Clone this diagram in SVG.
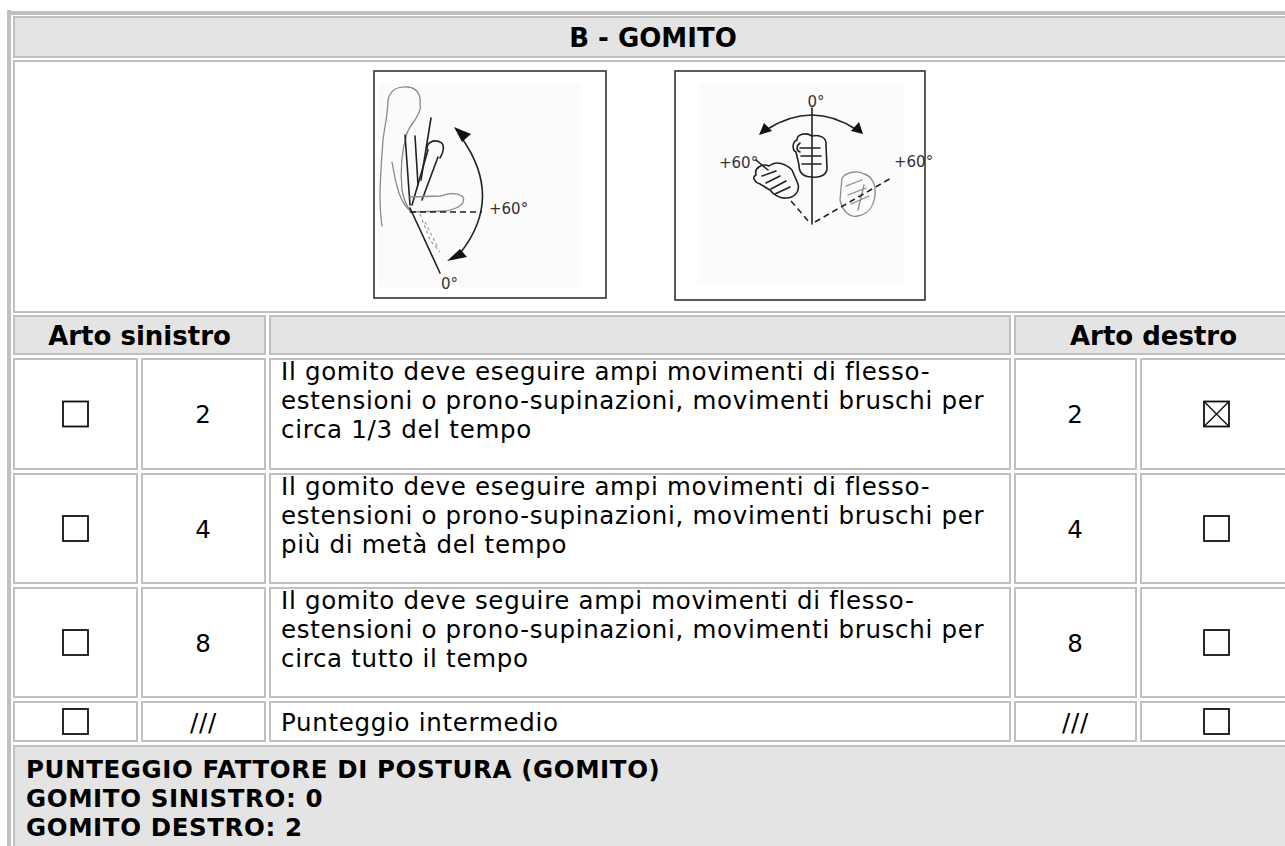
<svg xmlns="http://www.w3.org/2000/svg" width="1285" height="846" viewBox="0 0 1285 846">
<defs>
<style>
.g{fill:#e4e4e4;stroke:#c0c0c0;stroke-width:2}
.w{fill:#ffffff;stroke:#c0c0c0;stroke-width:2}
.t{font-family:"DejaVu Sans",Verdana,sans-serif;font-size:24.5px;letter-spacing:0.7px;fill:#000}
.h{font-family:"DejaVu Sans",Verdana,sans-serif;font-size:26px;font-weight:bold;fill:#000;text-anchor:middle}
.f{font-family:"DejaVu Sans",Verdana,sans-serif;font-size:24.5px;letter-spacing:0.6px;font-weight:bold;fill:#000}
.c{text-anchor:middle}
.cb{fill:#fff;stroke:#111;stroke-width:1.8}
.ln{fill:none;stroke:#222;stroke-width:1.6;stroke-linecap:round;stroke-linejoin:round}
.lt{fill:none;stroke:#8a8a8a;stroke-width:1.3;stroke-linecap:round;stroke-linejoin:round}
.ds{fill:none;stroke:#222;stroke-width:1.5;stroke-dasharray:6 4}
.dl{fill:none;stroke:#999;stroke-width:1.2;stroke-dasharray:3 3}
.lb{font-family:"DejaVu Sans",Verdana,sans-serif;font-size:15px;fill:#333}
.ah{fill:#111}
</style>
<symbol id="box" viewBox="0 0 25 25" overflow="visible"><rect class="cb" x="0" y="0" width="25" height="25"/></symbol>
<symbol id="boxx" viewBox="0 0 25 25" overflow="visible"><rect class="cb" x="0" y="0" width="25" height="25"/><path d="M0 0L25 25M25 0L0 25" stroke="#111" stroke-width="1.4"/></symbol>
</defs>
<rect width="1285" height="846" fill="#fff"/>
<g id="frame">
<rect x="7" y="10" width="4" height="836" fill="#c0c0c0"/>
<rect x="7" y="11" width="1278" height="4" fill="#c0c0c0"/>
</g>
<g id="title">
<rect class="g" x="14" y="17" width="1278" height="40"/>
<text class="h" x="653" y="47">B - GOMITO</text>
</g>
<g id="images">
<rect class="w" x="14" y="61" width="1278" height="251"/>
<g id="img1">
<rect x="374" y="71" width="232" height="227" fill="#fff" stroke="#333" stroke-width="1.6"/>
<rect x="378" y="83" width="202" height="204" fill="#fbfbfb"/>
<path class="lt" d="M382 226 C378 200 381 170 383 140 C385 125 388 112 388 100 C390 90 398 86 408 87 C418 88 421 96 420 104 C422 110 417 116 415 120 C412 124 409 128 407 133"/>
<path class="lt" d="M407 133 C402 150 400 170 402 190 C404 200 406 206 410 210"/>
<path class="lt" d="M392 162 C396 185 400 205 412 212"/>
<path class="ln" d="M431 118 L421 180"/>
<path class="ln" d="M405 135 L410 205 M415 136 L418 185"/>
<path class="ln" d="M412 205 L428 150 M422 200 L438 157"/>
<path class="ln" d="M427 150 C426 143 433 139 440 142 C445 144 444 152 440 158"/>
<path class="lt" d="M410 197 L440 196 C448 194 455 192 462 196 C466 200 462 206 456 208 L447 211 L410 212"/>
<path class="ds" d="M410 212 L482 212"/>
<text class="lb" x="489" y="214" font-size="13">+60°</text>
<path class="ln" d="M461 137 Q504 197 461 252"/>
<path class="ah" d="M454 127 L471 134 L462 142 Z"/>
<path class="ah" d="M447 261 L460 249 L467 257 Z"/>
<path class="ln" d="M410 208 L440 273"/>
<path class="dl" d="M420 214 L430 240 L440 252 M425 222 L437 246"/>
<text class="lb" x="441" y="289">0°</text>
</g>
<g id="img2">
<rect x="675" y="71" width="250" height="229" fill="#fff" stroke="#333" stroke-width="1.6"/>
<rect x="700" y="83" width="205" height="200" fill="#fbfbfb"/>
<text class="lb" x="816" y="107" font-size="17" text-anchor="middle">0°</text>
<path class="ln" d="M812 108 L812 224"/>
<path class="ln" d="M766 130 Q812 100 857 130"/>
<path class="ah" d="M759 135 L764 123 L772 131 Z"/>
<path class="ah" d="M863 134 L851 131 L859 122 Z"/>
<path class="ln" d="M797 140 C797 134 806 132 812 136 C820 134 827 138 826 145 L827 168 C827 175 820 178 812 177 C803 177 799 172 799 165 L796 152 C792 150 792 142 797 140 Z"/>
<path class="ln" d="M800 148 L820 148 M801 156 L821 156 M802 164 L821 164 M800 143 C796 146 796 150 800 152"/>
<text class="lb" x="719" y="168" font-size="17">+60°</text>
<path class="ln" d="M756 160 L768 170"/>
<path class="ln" d="M756 175 C754 168 762 163 769 166 C776 160 786 164 792 170 L798 184 C800 192 794 198 786 198 C780 199 773 194 770 190 L760 184 C754 182 752 177 756 175 Z"/>
<path class="ln" d="M762 176 L776 171 M766 183 L780 176 M771 189 L786 181 M775 194 L790 187"/>
<path class="ds" d="M791 201 L810 223"/>
<path class="lt" d="M842 178 C846 172 858 170 864 174 C872 176 876 185 875 195 C874 206 868 214 858 216 C849 218 842 210 840 200 Z"/>
<path class="lt" d="M846 186 L862 180 M848 195 L866 188 M851 204 L869 196 M858 210 L864 185"/>
<path class="ds" d="M815 222 L893 177"/>
<text class="lb" x="894" y="167" font-size="17">+60°</text>
</g>
</g>
<g id="header">
<rect class="g" x="14" y="316" width="251" height="38"/>
<rect class="g" x="270" y="316" width="740" height="38"/>
<rect class="g" x="1015" y="316" width="277" height="38"/>
<text class="h" x="139.5" y="345">Arto sinistro</text>
<text class="h" x="1153.5" y="345">Arto destro</text>
</g>
<g id="row1">
<rect class="w" x="14" y="359" width="123" height="110"/>
<rect class="w" x="142" y="359" width="123" height="110"/>
<rect class="w" x="270" y="359" width="740" height="110"/>
<rect class="w" x="1015" y="359" width="121" height="110"/>
<rect class="w" x="1141" y="359" width="151" height="110"/>
<use href="#box" x="63" y="401.5" width="25" height="25"/>
<text class="t c" x="203.5" y="423">2</text>
<text class="t" x="281" y="380">Il gomito deve eseguire ampi movimenti di flesso-</text>
<text class="t" x="281" y="409">estensioni o prono-supinazioni, movimenti bruschi per</text>
<text class="t" x="281" y="438">circa 1/3 del tempo</text>
<text class="t c" x="1075.5" y="423">2</text>
<use href="#boxx" x="1204" y="401.5" width="25" height="25"/>
</g>
<g id="row2">
<rect class="w" x="14" y="474" width="123" height="109"/>
<rect class="w" x="142" y="474" width="123" height="109"/>
<rect class="w" x="270" y="474" width="740" height="109"/>
<rect class="w" x="1015" y="474" width="121" height="109"/>
<rect class="w" x="1141" y="474" width="151" height="109"/>
<use href="#box" x="63" y="516" width="25" height="25"/>
<text class="t c" x="203.5" y="537.5">4</text>
<text class="t" x="281" y="494.5">Il gomito deve eseguire ampi movimenti di flesso-</text>
<text class="t" x="281" y="523.5">estensioni o prono-supinazioni, movimenti bruschi per</text>
<text class="t" x="281" y="552.5">più di metà del tempo</text>
<text class="t c" x="1075.5" y="537.5">4</text>
<use href="#box" x="1204" y="516" width="25" height="25"/>
</g>
<g id="row3">
<rect class="w" x="14" y="588" width="123" height="109"/>
<rect class="w" x="142" y="588" width="123" height="109"/>
<rect class="w" x="270" y="588" width="740" height="109"/>
<rect class="w" x="1015" y="588" width="121" height="109"/>
<rect class="w" x="1141" y="588" width="151" height="109"/>
<use href="#box" x="63" y="630" width="25" height="25"/>
<text class="t c" x="203.5" y="651.5">8</text>
<text class="t" x="281" y="609">Il gomito deve seguire ampi movimenti di flesso-</text>
<text class="t" x="281" y="638">estensioni o prono-supinazioni, movimenti bruschi per</text>
<text class="t" x="281" y="667">circa tutto il tempo</text>
<text class="t c" x="1075.5" y="651.5">8</text>
<use href="#box" x="1204" y="630" width="25" height="25"/>
</g>
<g id="row4">
<rect class="w" x="14" y="702" width="123" height="39"/>
<rect class="w" x="142" y="702" width="123" height="39"/>
<rect class="w" x="270" y="702" width="740" height="39"/>
<rect class="w" x="1015" y="702" width="121" height="39"/>
<rect class="w" x="1141" y="702" width="151" height="39"/>
<use href="#box" x="63" y="709" width="25" height="25"/>
<text class="t c" x="203.5" y="730.5">///</text>
<text class="t" x="281" y="730.5">Punteggio intermedio</text>
<text class="t c" x="1075.5" y="730.5">///</text>
<use href="#box" x="1204" y="709" width="25" height="25"/>
</g>
<g id="footer">
<rect class="g" x="14" y="746" width="1278" height="102"/>
<text class="f" x="26" y="778">PUNTEGGIO FATTORE DI POSTURA (GOMITO)</text>
<text class="f" x="26" y="807">GOMITO SINISTRO: 0</text>
<text class="f" x="26" y="836">GOMITO DESTRO: 2</text>
</g>
<g id="connectors"></g>
</svg>
